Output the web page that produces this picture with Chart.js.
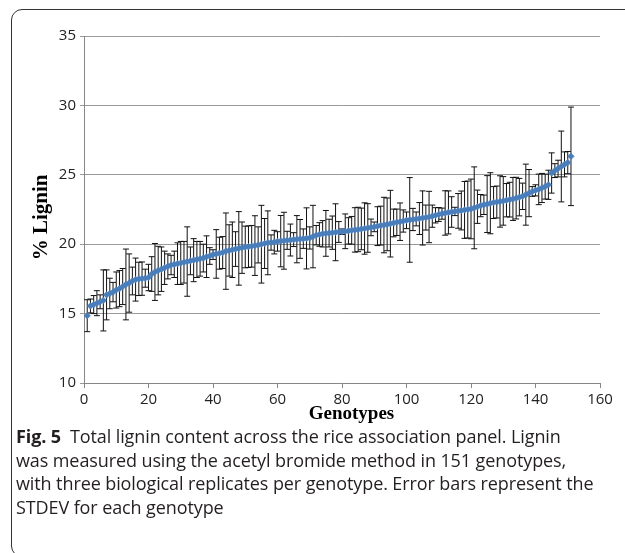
<!DOCTYPE html>
<html>
<head>
<meta charset="utf-8">
<script src="https://cdn.jsdelivr.net/npm/chart.js@4.4.0/dist/chart.umd.min.js"></script>
<style>
  body { margin: 0; width: 625px; height: 553px; overflow: hidden; background: #fff; position: relative; }
  #frame { position: absolute; left: 11px; top: 9px; width: 700px; height: 546px; border: 1.4px solid #333; border-radius: 11px; }
  #wrap { position: absolute; left: 0; top: 0; width: 625px; height: 431px; }
  #caption { position: absolute; left: 16px; top: 425px; font-family: "Open Sans", sans-serif; font-size: 18px; line-height: 23.7px; color: #231f20; white-space: nowrap; letter-spacing: -0.1px; }
  #caption b { font-weight: 700; }
</style>
</head>
<body>
<div id="frame"></div>
<div id="wrap"><canvas id="lignin-chart"></canvas></div>
<div id="caption"><b>Fig. 5</b>&ensp;Total lignin content across the rice association panel. Lignin<br>was measured using the acetyl bromide method in 151 genotypes,<br>with three biological replicates per genotype. Error bars represent the<br>STDEV for each genotype</div>

<script>
// ---------- DATA ----------
// % lignin per genotype (sorted), genotype n = index + 1
var lignin = [
  14.85, 15.55, 15.65, 15.75, 15.85, 15.95, 16.35, 16.45, 16.55, 16.7,
  16.8, 16.95, 17.1, 17.2, 17.35, 17.45, 17.5, 17.52, 17.55, 17.6,
  17.85, 18.0, 18.1, 18.2, 18.3, 18.4, 18.5, 18.55, 18.6, 18.65,
  18.7, 18.75, 18.8, 18.85, 18.9, 18.95, 19.0, 19.1, 19.15, 19.25,
  19.3, 19.35, 19.4, 19.5, 19.55, 19.6, 19.65, 19.7, 19.75, 19.8,
  19.82, 19.85, 19.9, 19.95, 20.0, 20.05, 20.1, 20.12, 20.15, 20.2,
  20.22, 20.25, 20.28, 20.3, 20.33, 20.36, 20.38, 20.4, 20.42, 20.45,
  20.55, 20.65, 20.7, 20.75, 20.78, 20.8, 20.83, 20.86, 20.88, 20.9,
  20.93, 20.96, 21.0, 21.03, 21.06, 21.1, 21.13, 21.17, 21.21, 21.25,
  21.3, 21.34, 21.38, 21.43, 21.48, 21.53, 21.58, 21.62, 21.67, 21.72,
  21.75, 21.78, 21.82, 21.85, 21.89, 21.92, 21.96, 22.02, 22.08, 22.14,
  22.2, 22.25, 22.29, 22.32, 22.36, 22.4, 22.43, 22.47, 22.5, 22.54,
  22.62, 22.7, 22.78, 22.84, 22.89, 22.95, 23.0, 23.04, 23.08, 23.12,
  23.17, 23.21, 23.26, 23.32, 23.39, 23.45, 23.57, 23.68, 23.8, 23.88,
  23.95, 24.05, 24.15, 24.28, 25.13, 25.3, 25.45, 25.6, 25.75, 25.88,
  26.33
];

// STDEV of the three replicates
var stdev = [
  1.15, 0.5, 0.65, 0.9, 0.5, 2.2, 1.8, 1.1, 0.7, 1.3,
  1.3, 1.3, 2.55, 2.1, 1.0, 1.55, 1.2, 1.2, 0.65, 0.95,
  1.25, 2.05, 1.75, 1.6, 1.2, 0.9, 0.7, 0.95, 1.5, 1.55,
  1.5, 2.5, 1.0, 1.55, 1.3, 1.25, 1.0, 1.5, 0.6, 0.35,
  1.75, 1.15, 1.15, 2.75, 1.85, 2.0, 1.25, 2.65, 1.85, 1.5,
  1.5, 1.5, 2.15, 1.3, 2.8, 1.8, 2.3, 0.55, 0.85, 0.7,
  1.85, 2.05, 0.65, 1.15, 0.5, 1.7, 1.4, 0.7, 2.2, 0.8,
  2.25, 0.7, 0.85, 0.95, 1.65, 1.0, 1.2, 2.05, 0.75, 0.2,
  1.25, 0.95, 1.0, 1.6, 1.6, 1.5, 1.85, 1.75, 0.6, 0.35,
  1.4, 1.4, 2.0, 1.9, 2.4, 1.0, 0.95, 1.35, 0.8, 0.6,
  3.05, 0.8, 0.5, 1.15, 1.95, 0.9, 1.85, 0.8, 0.55, 0.5,
  0.4, 1.6, 1.55, 1.1, 0.3, 1.25, 1.4, 2.05, 2.05, 2.15,
  2.95, 1.2, 0.8, 0.7, 2.05, 2.2, 1.15, 1.15, 1.85, 1.75,
  1.2, 1.25, 1.55, 1.5, 1.35, 0.95, 2.2, 1.7, 0.35, 0.4,
  1.1, 1.05, 0.9, 1.05, 1.45, 0.5, 0.6, 2.55, 0.9, 0.8,
  3.55
];

var xTicks = [0, 160, 20];   // min, max, step
var yTicks = [10, 35, 5];

var tickFont = { family: "'Open Sans', sans-serif", size: 15 };

// error bars drawn under the markers
var errorBars = {
  id: 'errorBars',
  beforeDatasetsDraw: function(chart) {
    var ctx = chart.ctx;
    var x = chart.scales.x, y = chart.scales.y;
    ctx.save();
    ctx.strokeStyle = '#111';
    ctx.lineWidth = 1;
    for (var i = 0; i < lignin.length; i++) {
      var px = x.getPixelForValue(i + 1);
      var top = y.getPixelForValue(lignin[i] + stdev[i]);
      var bot = y.getPixelForValue(lignin[i] - stdev[i]);
      ctx.beginPath();
      ctx.moveTo(px, top); ctx.lineTo(px, bot);
      ctx.moveTo(px - 3, top); ctx.lineTo(px + 3, top);
      ctx.moveTo(px - 3, bot); ctx.lineTo(px + 3, bot);
      ctx.stroke();
    }
    ctx.restore();
  }
};

new Chart("lignin-chart", {
  type: "scatter",
  data: {
    datasets: [{
      label: "% Lignin",
      data: lignin.map(function(v, i) { return { x: i + 1, y: v }; }),
      pointStyle: "rectRot",
      pointRadius: 3.3,
      backgroundColor: "#4a7ebb",
      borderColor: "#4a7ebb",
      borderWidth: 0.5
    }]
  },
  options: {
    responsive: true,
    maintainAspectRatio: false,
    animation: false,
    layout: { padding: { top: 36, right: 25, left: 0, bottom: 0 } },
    plugins: {
      legend: { display: false },
      tooltip: { enabled: false }
    },
    scales: {
      x: {
        type: "linear",
        min: xTicks[0], max: xTicks[1],
        ticks: { stepSize: xTicks[2], font: tickFont, color: "#222", padding: 3, maxRotation: 0 },
        grid: { drawOnChartArea: false, drawTicks: true, tickLength: 5, color: "#868686" },
        border: { color: "#868686" },
        // leading spaces nudge the title right, as in the figure
        title: { display: true, text: "    Genotypes", font: { family: "'Liberation Serif', serif", size: 19, weight: 'bold' }, color: "#000", padding: { top: 0, bottom: 5.5 } },
        afterFit: function(s) { s.height = 48; }
      },
      y: {
        min: yTicks[0], max: yTicks[1],
        ticks: { stepSize: yTicks[2], font: tickFont, color: "#222", padding: 4 },
        grid: { color: "#9a9a9a", tickLength: 4 },
        border: { color: "#868686" },
        title: { display: true, text: "% Lignin   ", font: { family: "'Liberation Serif', serif", size: 21, weight: 'bold' }, color: "#000", padding: { top: 28.5, bottom: 0 } },
        afterFit: function(s) { s.width = 84; }
      }
    }
  },
  plugins: [errorBars]
});
</script>
</body>
</html>
